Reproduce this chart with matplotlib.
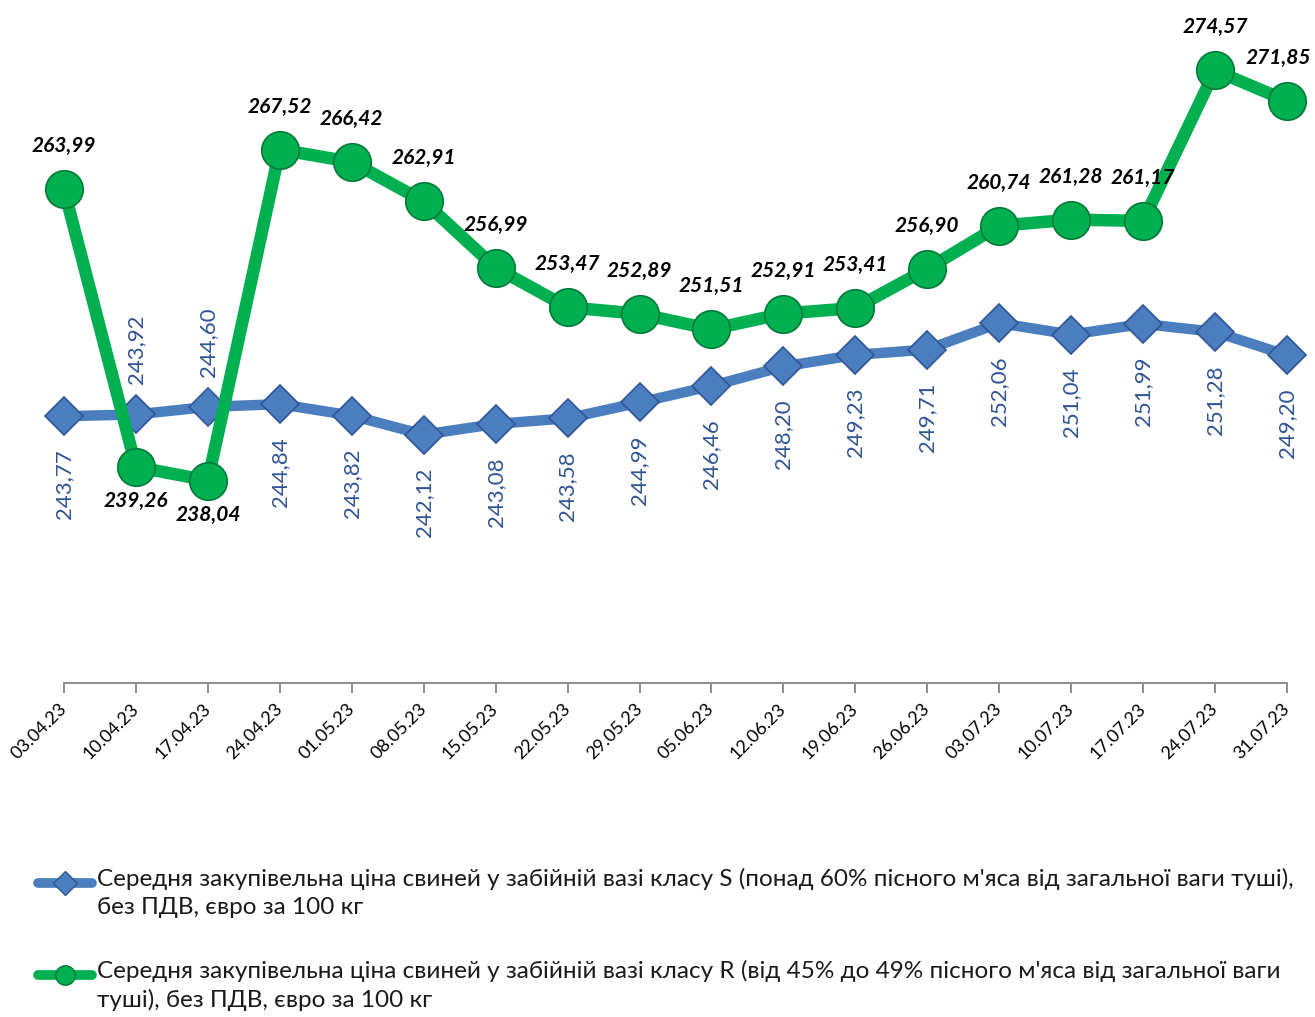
import numpy as np
import matplotlib
matplotlib.use("Agg")
import matplotlib.pyplot as plt
from matplotlib.lines import Line2D

plt.rcParams['font.family'] = ['Lato', 'DejaVu Sans']

dates = ['03.04.23', '10.04.23', '17.04.23', '24.04.23', '01.05.23', '08.05.23',
         '15.05.23', '22.05.23', '29.05.23', '05.06.23', '12.06.23', '19.06.23',
         '26.06.23', '03.07.23', '10.07.23', '17.07.23', '24.07.23', '31.07.23']
class_s = [243.77, 243.92, 244.60, 244.84, 243.82, 242.12, 243.08, 243.58, 244.99,
           246.46, 248.20, 249.23, 249.71, 252.06, 251.04, 251.99, 251.28, 249.20]
class_r = [263.99, 239.26, 238.04, 267.52, 266.42, 262.91, 256.99, 253.47, 252.89,
           251.51, 252.91, 253.41, 256.90, 260.74, 261.28, 261.17, 274.57, 271.85]

label_s = ("Середня закупівельна ціна свиней у забійній вазі класу S (понад 60% пісного м'яса від загальної ваги туші),\n"
           "без ПДВ, євро за 100 кг")
label_r = ("Середня закупівельна ціна свиней у забійній вазі класу R (від 45% до 49% пісного м'яса від загальної ваги\n"
           "туші), без ПДВ, євро за 100 кг")

# which blue labels sit above the line, which green labels sit below
s_above = [1, 2]
r_below = [1, 2]

blue = '#4A7EBF'
blue_edge = '#2F5597'
blue_txt = '#2F5496'
green = '#00B050'
green_edge = '#007A38'

W, H = 1315, 1017
fig = plt.figure(figsize=(W / 100, H / 100), dpi=100)
ax = fig.add_axes([64 / W, 1 - 683 / H, (1287 - 64) / W, (683 - 9.5) / H])

x = np.arange(len(dates))
ax.plot(x, class_s, color=blue, lw=7.5, marker='D', ms=19, mfc=blue,
        mec=blue_edge, mew=1.2, clip_on=False, zorder=3, solid_capstyle='round')
ax.plot(x, class_r, color=green, lw=9, marker='o', ms=27, mfc=green,
        mec=green_edge, mew=1.2, clip_on=False, zorder=4, solid_capstyle='round')

for i, v in enumerate(class_s):
    txt = f'{v:.2f}'.replace('.', ',')
    if i in s_above:
        ax.annotate(txt, (i, v), xytext=(0, 30), textcoords='offset pixels',
                    rotation=90, ha='center', va='bottom', fontsize=16, color=blue_txt)
    else:
        ax.annotate(txt, (i, v), xytext=(0, -33), textcoords='offset pixels',
                    rotation=90, ha='center', va='top', fontsize=16, color=blue_txt)

for i, v in enumerate(class_r):
    txt = f'{v:.2f}'.replace('.', ',')
    dx = -9 if i == len(class_r) - 1 else 0
    if i in r_below:
        ax.annotate(txt, (i, v), xytext=(dx, -34), textcoords='offset pixels',
                    ha='center', va='center', fontsize=15, fontweight='bold',
                    fontstyle='italic', color='black', zorder=5)
    else:
        ax.annotate(txt, (i, v), xytext=(dx, 43), textcoords='offset pixels',
                    ha='center', va='center', fontsize=15, fontweight='bold',
                    fontstyle='italic', color='black', zorder=5)

ax.set_xlim(0, len(dates) - 1)
ax.set_ylim(220, 280)
ax.set_yticks([])
ax.set_xticks(x)
ax.set_xticklabels(dates, rotation=45, ha='right', va='center',
                   rotation_mode='anchor', fontsize=13)
ax.tick_params(axis='x', length=7, width=1.3, color='#868686', pad=10)
for s in ['top', 'right', 'left']:
    ax.spines[s].set_visible(False)
ax.spines['bottom'].set_color('#868686')
ax.spines['bottom'].set_linewidth(1.3)
ax.patch.set_alpha(0)

# legend at the bottom
for ypix, col, edge, mk, ms, lw, lab in [
        (883, blue, blue_edge, 'D', 12, 7, label_s),
        (975, green, green_edge, 'o', 14, 7, label_r)]:
    yf = 1 - ypix / H
    fig.add_artist(Line2D([38 / W, 65 / W, 92 / W], [yf, yf, yf], color=col, lw=lw,
                          marker=mk, ms=ms, mfc=col, mec=edge, markevery=[1],
                          solid_capstyle='round', transform=fig.transFigure))
    fig.text(97 / W, yf + 15 / H, lab, ha='left', va='top', fontsize=17.5,
             color='#1a1a1a', linespacing=1.38, transform=fig.transFigure)

fig.savefig('out.png', dpi=100)
